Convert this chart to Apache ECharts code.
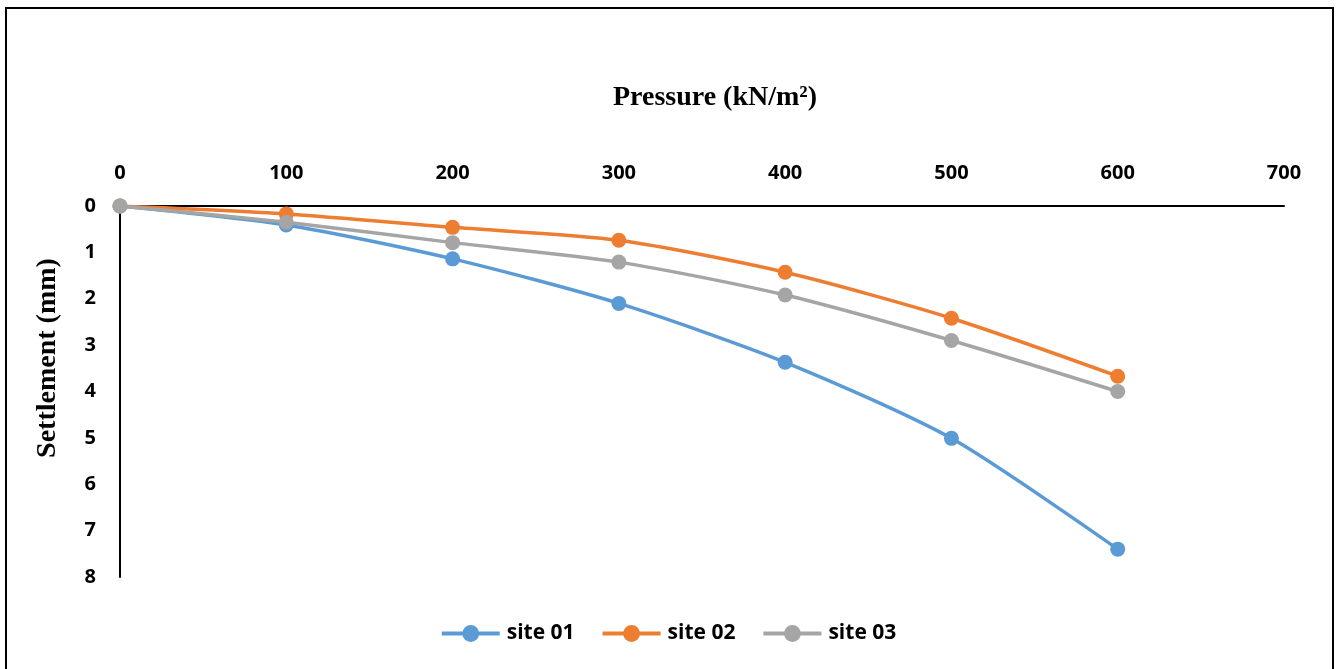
<!DOCTYPE html>
<html>
<head>
<meta charset="utf-8">
<script src="https://cdn.jsdelivr.net/npm/echarts@6/dist/echarts.min.js"></script>
<style>
  html, body { margin: 0; padding: 0; background: #fff; }
  #chart { width: 1336px; height: 669px; }
</style>
</head>
<body>
<div id="chart"></div>
<script>
// Plate load test: settlement under applied pressure at three sites
const pressure = [0, 100, 200, 300, 400, 500, 600];
const site01 = [0, 0.41, 1.14, 2.10, 3.37, 5.01, 7.40];
const site02 = [0, 0.17, 0.46, 0.74, 1.43, 2.42, 3.67];
const site03 = [0, 0.35, 0.79, 1.21, 1.92, 2.90, 4.00];
const seriesNames = ['site 01', 'site 02', 'site 03'];
const seriesColors = ['#5B9BD5', '#ED7D31', '#A5A5A5'];

const pairs = vals => pressure.map((p, i) => [p, vals[i]]);

const labelFont = { color: '#000', fontWeight: 'bold', fontSize: 20, fontFamily: 'Open Sans, Lato, sans-serif' };
const serifBold = 'bold 28px "Liberation Serif", "Times New Roman", serif';

const chart = echarts.init(document.getElementById('chart'));
chart.setOption({
  animation: false,
  backgroundColor: '#fff',
  grid: { left: 120, top: 206, width: 1164, height: 371, containLabel: false },
  xAxis: {
    type: 'value', position: 'top', min: 0, max: 700, interval: 100,
    axisLine: { show: true, onZero: false, lineStyle: { color: '#000', width: 2 } },
    axisTick: { show: false },
    splitLine: { show: false },
    axisLabel: Object.assign({ margin: 23 }, labelFont)
  },
  yAxis: {
    type: 'value', inverse: true, min: 0, max: 8, interval: 1,
    axisLine: { show: true, onZero: false, lineStyle: { color: '#000', width: 2 } },
    axisTick: { show: false },
    splitLine: { show: false },
    axisLabel: Object.assign({ margin: 24, padding: [4, 0, 0, 0] }, labelFont)
  },
  legend: {
    bottom: 20, left: 'center', itemGap: 26, itemWidth: 58, itemHeight: 21,
    lineStyle: { width: 4 },
    textStyle: Object.assign({}, labelFont, { fontSize: 21, padding: [0, 0, 0, 2] }),
    data: seriesNames
  },
  graphic: [
    { type: 'rect', shape: { x: 6, y: 8, width: 1327, height: 700 },
      style: { fill: 'none', stroke: '#000', lineWidth: 2 }, silent: true },
    { type: 'text', x: 715, y: 98,
      style: { text: 'Pressure (kN/m²)', fill: '#000', font: serifBold,
        textAlign: 'center', textVerticalAlign: 'middle' } },
    { type: 'text', x: 48, y: 358, rotation: Math.PI / 2,
      style: { text: 'Settlement (mm)', fill: '#000', font: serifBold,
        textAlign: 'center', textVerticalAlign: 'middle' } }
  ],
  // later sites are drawn over earlier ones
  series: [site01, site02, site03].map((vals, i) => ({
    name: seriesNames[i],
    type: 'line',
    data: pairs(vals),
    smooth: 0.25,
    symbol: 'circle',
    symbolSize: 15,
    color: seriesColors[i],
    lineStyle: { width: 3.5, color: seriesColors[i] },
    itemStyle: { color: seriesColors[i] },
    z: 2 + i
  }))
});
</script>
</body>
</html>
